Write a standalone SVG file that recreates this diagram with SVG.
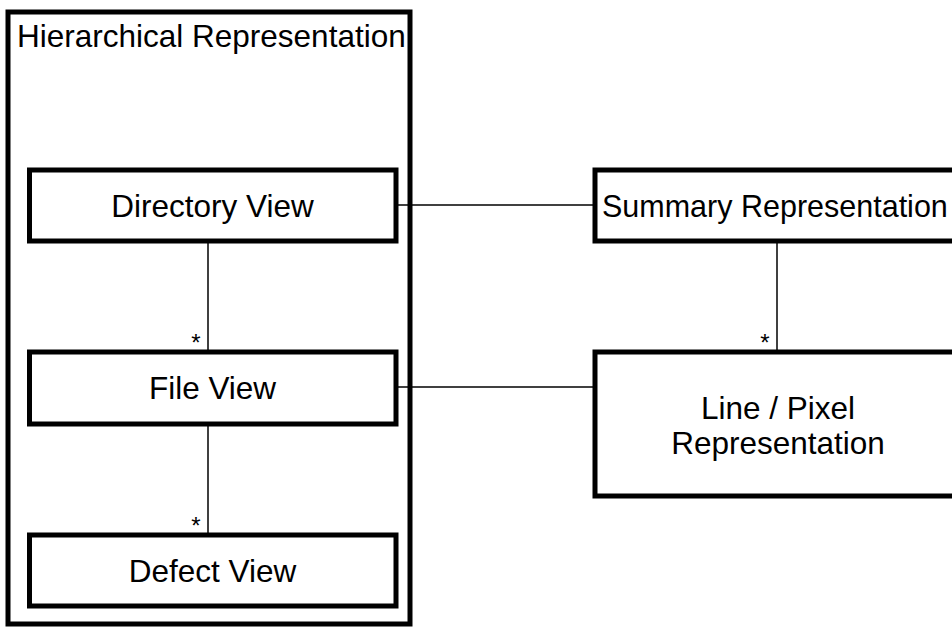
<svg xmlns="http://www.w3.org/2000/svg" width="952" height="628" viewBox="0 0 952 628">
<style>
.box{fill:#fff;stroke:#000;stroke-width:5}
.frame{fill:#fff;stroke:#000;stroke-width:5}
.lbl{font-family:"Liberation Sans",Arial,sans-serif;font-size:31.5px;fill:#000}
.mid{text-anchor:middle}
.star{font-family:"Liberation Sans",Arial,sans-serif;font-size:24px;fill:#000;text-anchor:middle}
.conn line{stroke:#000;stroke-width:1.5}
</style>
<rect width="952" height="628" fill="#fff"/>
<g id="hierarchical">
<rect class="frame" x="8" y="12" width="402" height="612"/>
<text class="lbl" x="17" y="47">Hierarchical Representation</text>
</g>
<g class="conn" id="connectors">
<line x1="396" y1="205" x2="595" y2="205"/>
<line x1="396" y1="387" x2="595" y2="387"/>
<line x1="208" y1="241" x2="208" y2="352"/>
<line x1="208" y1="424" x2="208" y2="535"/>
<line x1="777" y1="241" x2="777" y2="352"/>
<text class="star" x="196" y="351">*</text>
<text class="star" x="196" y="534">*</text>
<text class="star" x="765" y="351">*</text>
</g>
<g id="directory">
<rect class="box" x="29.5" y="170" width="366.5" height="71"/>
<text class="lbl mid" x="212.5" y="217">Directory View</text>
</g>
<g id="file">
<rect class="box" x="29.5" y="352" width="366.5" height="72"/>
<text class="lbl mid" x="212.5" y="399">File View</text>
</g>
<g id="defect">
<rect class="box" x="29.5" y="535" width="366.5" height="71"/>
<text class="lbl mid" x="212.5" y="582">Defect View</text>
</g>
<g id="summary">
<rect class="box" x="595" y="170" width="400" height="71"/>
<text class="lbl" x="602" y="217" style="font-size:30.5px">Summary Representation</text>
</g>
<g id="linepixel">
<rect class="box" x="595" y="352" width="400" height="144"/>
<text class="lbl mid" x="778" y="419">Line / Pixel</text>
<text class="lbl mid" x="778" y="454">Representation</text>
</g>
</svg>
